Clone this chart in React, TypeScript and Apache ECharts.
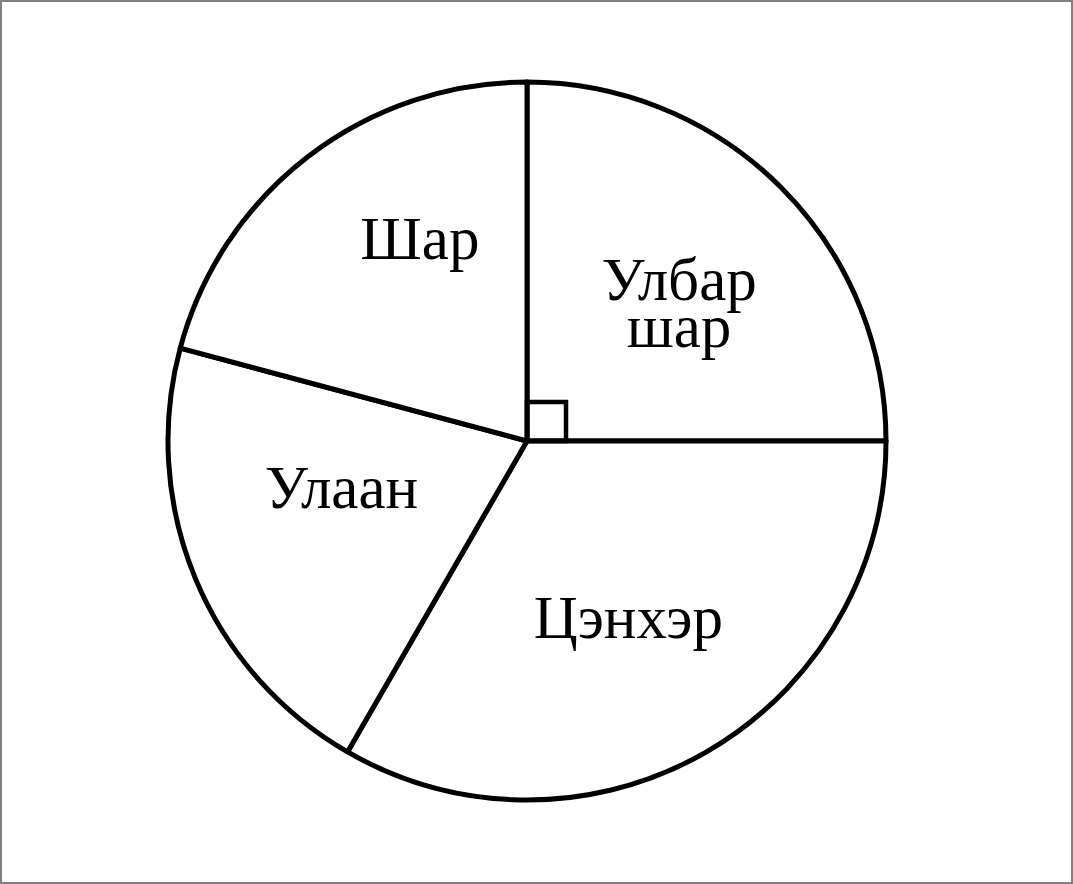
import React, { useEffect, useRef } from "react";
import * as echarts from "echarts";

const categories = ["Улбар\nшар", "Цэнхэр", "Улаан", "Шар"];
const values = [30, 40, 25, 25];
const labelOffsets: [number, number][] = [
  [23, -9],
  [10, 18],
  [-17, -23],
  [4, -58],
];

const W = 1073;
const H = 884;
const CX = 525;
const CY = 439;
const R = 359;
const SQ = 39;

export default function App() {
  const ref = useRef<HTMLDivElement>(null);
  useEffect(() => {
    document.body.style.margin = "0";
    const chart = echarts.init(ref.current!, null, { renderer: "svg" });
    chart.setOption({
      animation: false,
      backgroundColor: "#ffffff",
      series: [
        {
          type: "pie",
          center: [CX, CY],
          radius: [0, R],
          startAngle: 90,
          clockwise: true,
          silent: true,
          avoidLabelOverlap: false,
          itemStyle: { color: "#ffffff", borderColor: "#000000", borderWidth: 5 },
          emphasis: { disabled: true },
          label: {
            show: true,
            position: "inside",
            color: "#000000",
            fontFamily: "Liberation Serif",
            fontSize: 61,
            lineHeight: 47,
            formatter: "{b}",
          },
          labelLine: { show: false },
          data: categories.map((name, i) => ({
            name,
            value: values[i],
            label: { offset: labelOffsets[i] },
          })),
        },
      ],
      graphic: [
        {
          type: "rect",
          silent: true,
          z: 10,
          shape: { x: CX, y: CY - SQ, width: SQ, height: SQ },
          style: { fill: "none", stroke: "#000000", lineWidth: 4.5 },
        },
      ],
    });
    return () => chart.dispose();
  }, []);
  return (
    <div
      ref={ref}
      style={{
        width: W,
        height: H,
        boxSizing: "border-box",
        border: "2px solid #808080",
      }}
    />
  );
}
